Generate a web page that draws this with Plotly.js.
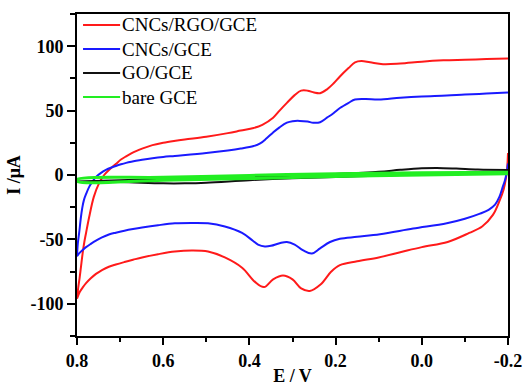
<!DOCTYPE html>
<html>
<head>
<meta charset="utf-8">
<script src="https://cdn.plot.ly/plotly-3.0.1.min.js"></script>
<style>html,body{margin:0;padding:0;background:#fff;}#chart{width:527px;height:386px;}</style>
</head>
<body>
<div id="chart"></div>
<script>
// Series names
const seriesNames = ["CNCs/RGO/GCE", "CNCs/GCE", "GO/GCE", "bare GCE"];

// CNCs/RGO/GCE - cathodic branch (E ascending) then anodic branch (E descending)
const redLowerE = [-0.2, -0.198, -0.195, -0.19, -0.181, -0.165, -0.14, -0.11, -0.06, 0.0, 0.05, 0.1, 0.15, 0.19, 0.21, 0.235, 0.26, 0.28, 0.3, 0.322, 0.345, 0.366, 0.387, 0.417, 0.457, 0.496, 0.533, 0.573, 0.612, 0.649, 0.67, 0.69, 0.71, 0.726, 0.742, 0.756, 0.768, 0.779, 0.787, 0.794, 0.8];
const redLowerI = [17, 5, -3, -11, -19.5, -31, -40, -45, -52, -56, -60, -64, -67, -70, -75, -85, -90, -88, -81, -78, -81, -87, -83, -72, -64, -59.4, -58.6, -59.4, -61.5, -64, -65.8, -67.6, -69.5, -71.2, -73.8, -76.8, -80.2, -84, -87.5, -91, -96];
const redUpperE = [0.8, 0.797, 0.794, 0.791, 0.787, 0.783, 0.779, 0.772, 0.761, 0.749, 0.737, 0.724, 0.71, 0.698, 0.686, 0.674, 0.663, 0.649, 0.625, 0.6, 0.575, 0.55, 0.5, 0.45, 0.42, 0.39, 0.37, 0.345, 0.33, 0.313, 0.295, 0.28, 0.265, 0.25, 0.236, 0.22, 0.205, 0.19, 0.17, 0.155, 0.14, 0.12, 0.09, 0.05, 0.0, -0.05, -0.1, -0.15, -0.2];
const redUpperI = [-96, -87, -80, -72, -61, -52, -45, -33, -17, -6.5, 0, 4.5, 8.5, 12, 14.5, 16.8, 18.6, 20.5, 23.2, 25, 26.4, 27.6, 29.7, 32.5, 34.5, 36.5, 39, 44.5, 50, 56, 62, 65.5, 65.5, 64, 63.5, 66.5, 71, 76.5, 83, 87.5, 88.5, 87.5, 86, 86.5, 88, 89, 89.5, 90, 90.5];

// CNCs/GCE
const blueLowerE = [-0.2, -0.197, -0.193, -0.188, -0.18, -0.17, -0.155, -0.135, -0.1, -0.058, 0.02, 0.097, 0.15, 0.19, 0.213, 0.236, 0.255, 0.275, 0.295, 0.313, 0.33, 0.35, 0.364, 0.38, 0.392, 0.417, 0.457, 0.496, 0.533, 0.573, 0.612, 0.649, 0.67, 0.69, 0.71, 0.726, 0.742, 0.756, 0.768, 0.779, 0.787, 0.794, 0.8];
const blueLowerI = [9, 2, -4, -9, -17, -23, -27, -30, -34, -37.5, -41.6, -46, -48, -49.5, -52, -57, -61, -58.6, -54, -52, -53, -55, -55.5, -54, -51, -45, -40, -37.5, -37.2, -37.5, -39, -40.8, -42, -43.3, -44.8, -46.2, -48.5, -51, -53.5, -56, -58.3, -60.5, -63];
const blueUpperE = [0.8, 0.798, 0.795, 0.791, 0.788, 0.784, 0.778, 0.772, 0.764, 0.756, 0.745, 0.733, 0.72, 0.71, 0.698, 0.686, 0.674, 0.663, 0.649, 0.625, 0.6, 0.573, 0.5, 0.45, 0.42, 0.39, 0.375, 0.36, 0.345, 0.33, 0.313, 0.3, 0.283, 0.265, 0.252, 0.236, 0.22, 0.205, 0.19, 0.17, 0.155, 0.13, 0.1, 0.05, 0.0, -0.058, -0.1, -0.15, -0.2];
const blueUpperI = [-63, -53, -45, -33, -26, -19.5, -14, -9.4, -5, -1.5, 1.5, 3.9, 5.8, 7, 8.3, 9.4, 10.3, 11, 11.8, 13, 14, 14.8, 17, 19, 20.5, 22.5, 24.5, 28.5, 33, 37, 40.6, 41.8, 42, 41.5, 40.6, 41, 44.5, 48, 52, 56, 58.6, 59, 58.6, 60, 61, 61.7, 62.5, 63.2, 64];

// GO/GCE
const blackLowerE = [-0.2, -0.1, 0.0, 0.1, 0.2, 0.3, 0.4, 0.5, 0.55, 0.6, 0.7, 0.8];
const blackLowerI = [2.5, 1.5, 0.5, -0.5, -1.5, -2.5, -4, -6, -6.5, -6.5, -5.5, -5];
const blackUpperE = [0.8, 0.7, 0.6, 0.5, 0.4, 0.3, 0.2, 0.1, 0.05, 0.0, -0.035, -0.08, -0.13, -0.2];
const blackUpperI = [-5, -4, -3.2, -2.5, -1.5, -0.5, 0.8, 2.5, 4, 5.2, 5.5, 5, 4.2, 3.9];

// bare GCE
const greenLowerE = [-0.2, 0.0, 0.2, 0.4, 0.6, 0.8];
const greenLowerI = [1, 0, -1.2, -2.8, -4, -5];
const greenUpperE = [0.8, 0.6, 0.4, 0.2, 0.0, -0.2];
const greenUpperI = [-3.5, -1.8, -0.3, 1, 1.8, 2.2];

// Tick labels
const xTickVals = [0.8, 0.6, 0.4, 0.2, 0.0, -0.2];
const xTickText = ["0.8", "0.6", "0.4", "0.2", "0.0", "-0.2"];
const yTickVals = [-100, -50, 0, 50, 100];
const yTickText = ["-100", "-50", "0", "50", "100"];

const colors = ["#ff1a1a", "#1a1aff", "#111111", "#22ee22"];
const widths = [2, 2, 2, 3];

const loops = [
  [redLowerE.concat(redUpperE), redLowerI.concat(redUpperI)],
  [blueLowerE.concat(blueUpperE), blueLowerI.concat(blueUpperI)],
  [blackLowerE.concat(blackUpperE), blackLowerI.concat(blackUpperI)],
  [greenLowerE.concat(greenUpperE), greenLowerI.concat(greenUpperI)]
];

const traces = loops.map((l, i) => ({
  x: l[0], y: l[1], name: seriesNames[i], type: "scatter", mode: "lines",
  line: {color: colors[i], width: widths[i], shape: "spline", smoothing: 1.0},
  showlegend: false
}));

const serif = "Liberation Serif";

// Legend drawn as paper-positioned swatches + labels (top-left inside the plot)
const legendRowsY = [0.966, 0.891, 0.817, 0.742];
const shapes = seriesNames.map((n, i) => ({
  type: "line", xref: "paper", yref: "paper",
  x0: 0.014, x1: 0.1, y0: legendRowsY[i], y1: legendRowsY[i],
  line: {color: colors[i], width: 2}
}));
const annotations = seriesNames.map((n, i) => ({
  xref: "paper", yref: "paper", x: 0.1, y: legendRowsY[i],
  xanchor: "left", yanchor: "middle", showarrow: false, text: n,
  font: {family: serif, size: 19, color: "#000"}
}));

const layout = {
  width: 527, height: 386,
  margin: {l: 77, r: 19, t: 14, b: 50},
  paper_bgcolor: "#fff", plot_bgcolor: "#fff",
  font: {family: serif, color: "#000"},
  showlegend: false,
  shapes: shapes,
  annotations: annotations,
  xaxis: {
    range: [0.8, -0.2], tickmode: "array", tickvals: xTickVals, ticktext: xTickText,
    ticks: "outside", ticklen: 7, tickwidth: 2, tickcolor: "#000",
    minor: {dtick: 0.1, tick0: 0, ticks: "outside", ticklen: 4, tickwidth: 2, tickcolor: "#000"},
    showline: true, linewidth: 2, linecolor: "#000", mirror: true,
    showgrid: false, zeroline: false,
    tickfont: {family: serif, size: 18, color: "#000", weight: "bold"},
    title: {text: "<b>E / V</b>", font: {family: serif, size: 18, color: "#000"}, standoff: 20}
  },
  yaxis: {
    range: [-125, 125], tickmode: "array", tickvals: yTickVals, ticktext: yTickText,
    ticks: "outside", ticklen: 8, tickwidth: 2, tickcolor: "#000",
    minor: {dtick: 25, tick0: 0, ticks: "outside", ticklen: 5, tickwidth: 2, tickcolor: "#000"},
    showline: true, linewidth: 2, linecolor: "#000", mirror: true,
    showgrid: false, zeroline: false,
    tickfont: {family: serif, size: 18, color: "#000", weight: "bold"},
    title: {text: "<b>I /μA</b>", font: {family: serif, size: 18, color: "#000"}, standoff: 5}
  }
};

Plotly.newPlot("chart", traces, layout, {displayModeBar: false, staticPlot: true});
</script>
</body>
</html>
